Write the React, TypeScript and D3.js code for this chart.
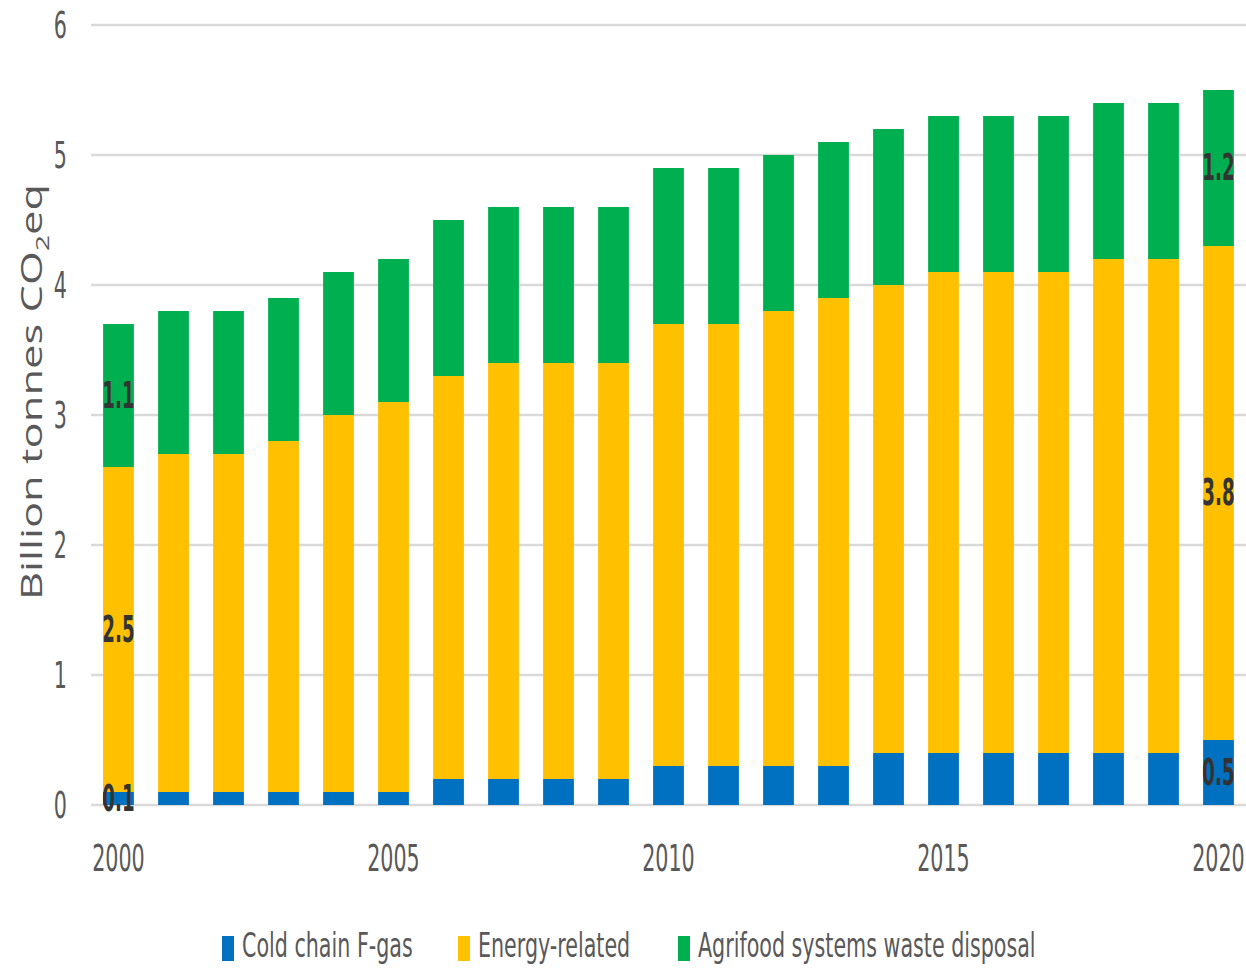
import React, { useEffect, useRef } from 'react';
import * as d3 from 'd3';

const years = ['2000', '2001', '2002', '2003', '2004', '2005', '2006', '2007', '2008', '2009', '2010',
    '2011', '2012', '2013', '2014', '2015', '2016', '2017', '2018', '2019', '2020'];
const fgas = [0.1, 0.1, 0.1, 0.1, 0.1, 0.1, 0.2, 0.2, 0.2, 0.2, 0.3, 0.3, 0.3, 0.3, 0.4, 0.4, 0.4, 0.4, 0.4, 0.4, 0.5];
const energy = [2.5, 2.6, 2.6, 2.7, 2.9, 3.0, 3.1, 3.2, 3.2, 3.2, 3.4, 3.4, 3.5, 3.6, 3.6, 3.7, 3.7, 3.7, 3.8, 3.8, 3.8];
const waste = [1.1, 1.1, 1.1, 1.1, 1.1, 1.1, 1.2, 1.2, 1.2, 1.2, 1.2, 1.2, 1.2, 1.2, 1.2, 1.2, 1.2, 1.2, 1.2, 1.2, 1.2];
const seriesNames = ['Cold chain F-gas', 'Energy-related', 'Agrifood systems waste disposal'];
const seriesColors = ['#0070C0', '#FFC000', '#00B050'];
const xTickLabels = ['2000', '2005', '2010', '2015', '2020'];
const yTicks = [0, 1, 2, 3, 4, 5, 6];
const labeledYears = ['2000', '2020'];

const narrow = "'Liberation Sans Narrow', 'DejaVu Sans Condensed', sans-serif";
const textGrey = '#595959';

export default function App() {
    const svgRef = useRef<SVGSVGElement>(null);

    useEffect(() => {
        if (!svgRef.current) return;
        document.body.style.margin = '0';
        const svg = d3.select(svgRef.current);
        svg.selectAll('*').remove();

        const width = 1246;
        const margin = { top: 25, right: 0, bottom: 164, left: 91 };
        const height = 969;

        const rows = years.map((y, i) => ({ year: y, fgas: fgas[i], energy: energy[i], waste: waste[i] }));
        const keys = ['fgas', 'energy', 'waste'];
        const stacked = d3.stack<any>().keys(keys)(rows);

        const x = d3.scaleBand()
            .domain(years)
            .range([margin.left, width - margin.right])
            .paddingInner(0.44)
            .paddingOuter(0.22);

        const y = d3.scaleLinear()
            .domain([0, 6])
            .range([height - margin.bottom, margin.top]);

        // stretched narrow text, like the source image
        const stretchText = (g: any, tx: number, ty: number, s: string, size: number, anchor: string, opts: any = {}) => {
            g.append('text')
                .attr('transform', `translate(${tx},${ty}) scale(${opts.sx || 0.85},${opts.sy || 1.35})`)
                .attr('text-anchor', anchor)
                .attr('dominant-baseline', 'central')
                .attr('font-family', narrow)
                .attr('font-size', size)
                .attr('font-weight', opts.bold ? 'bold' : 'normal')
                .attr('fill', opts.fill || textGrey)
                .text(s);
        };

        // Gridlines
        svg.append('g')
            .selectAll('line')
            .data(yTicks)
            .join('line')
            .attr('x1', margin.left)
            .attr('x2', width)
            .attr('y1', d => y(d))
            .attr('y2', d => y(d))
            .attr('stroke', '#d9d9d9')
            .attr('stroke-width', 2.5);

        // Y tick labels
        const yLab = svg.append('g');
        yTicks.forEach(t => stretchText(yLab, 67, y(t), String(t), 27, 'end'));

        // Y title
        const title = svg.append('text')
            .attr('transform', `translate(42,392) rotate(-90) scale(1.5,1)`)
            .attr('text-anchor', 'middle')
            .attr('font-family', "'Open Sans', sans-serif")
            .attr('font-size', 29)
            .attr('fill', textGrey);
        title.append('tspan').text('Billion tonnes CO');
        title.append('tspan').attr('font-size', 19).attr('dy', 7).text('2');
        title.append('tspan').attr('dy', -7).text('eq');

        // Bars
        svg.append('g')
            .selectAll('g')
            .data(stacked)
            .join('g')
            .attr('fill', (d, i) => seriesColors[i])
            .selectAll('rect')
            .data(d => d)
            .join('rect')
            .attr('x', d => x(d.data.year)!)
            .attr('y', d => y(d[1]))
            .attr('width', x.bandwidth())
            .attr('height', d => y(d[0]) - y(d[1]));

        // Data labels on first/last bars
        const lab = svg.append('g');
        stacked.forEach(layer => {
            layer.forEach(d => {
                if (!labeledYears.includes(d.data.year)) return;
                const v = d[1] - d[0];
                stretchText(lab, x(d.data.year)! + x.bandwidth() / 2, y((d[0] + d[1]) / 2), v.toFixed(1), 27, 'middle',
                    { bold: true, fill: '#333333', sx: 0.75 });
            });
        });

        // X tick labels
        const xLab = svg.append('g');
        xTickLabels.forEach(t => stretchText(xLab, x(t)! + x.bandwidth() / 2, 858, t, 27, 'middle'));

        // Legend
        const legendX = [222, 458, 678];
        const leg = svg.append('g');
        seriesNames.forEach((name, i) => {
            leg.append('rect')
                .attr('x', legendX[i])
                .attr('y', 936)
                .attr('width', 12)
                .attr('height', 25)
                .attr('fill', seriesColors[i]);
            stretchText(leg, legendX[i] + 20, 946, name, 27, 'start', { sy: 1.22 });
        });
    }, []);

    return <svg ref={svgRef} width={1246} height={969} style={{ display: 'block', background: '#fff' }} />;
}
